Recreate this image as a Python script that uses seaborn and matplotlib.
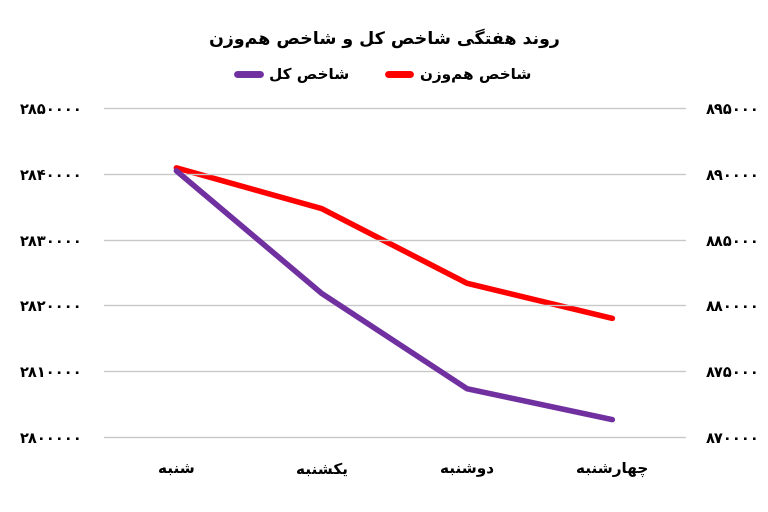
import pandas as pd
import seaborn as sns
import matplotlib.pyplot as plt
from matplotlib.lines import Line2D

days = ["شنبه", "یکشنبه", "دوشنبه", "چهارشنبه"]
total_index = [2840450, 2821800, 2807300, 2802600]
equal_weight = [890450, 887350, 881670, 879000]
left_ticks = [2800000, 2810000, 2820000, 2830000, 2840000, 2850000]
right_ticks = [870000, 875000, 880000, 885000, 890000, 895000]
title = "روند هفتگی شاخص کل و شاخص هم\u200cوزن"
label_total = "شاخص کل"
label_equal = "شاخص هم\u200cوزن"

# matplotlib has no arabic shaping, so pick presentation forms by hand
# (isolated, final, initial, medial); two entries = joins only to the right
FORMS = {
    "ا": (0xFE8D, 0xFE8E), "د": (0xFEA9, 0xFEAA), "ر": (0xFEAD, 0xFEAE),
    "ز": (0xFEAF, 0xFEB0), "و": (0xFEED, 0xFEEE),
    "ب": (0xFE8F, 0xFE90, 0xFE91, 0xFE92), "ت": (0xFE95, 0xFE96, 0xFE97, 0xFE98),
    "خ": (0xFEA5, 0xFEA6, 0xFEA7, 0xFEA8), "ش": (0xFEB5, 0xFEB6, 0xFEB7, 0xFEB8),
    "ص": (0xFEB9, 0xFEBA, 0xFEBB, 0xFEBC), "ف": (0xFED1, 0xFED2, 0xFED3, 0xFED4),
    "ل": (0xFEDD, 0xFEDE, 0xFEDF, 0xFEE0), "م": (0xFEE1, 0xFEE2, 0xFEE3, 0xFEE4),
    "ن": (0xFEE5, 0xFEE6, 0xFEE7, 0xFEE8), "ه": (0xFEE9, 0xFEEA, 0xFEEB, 0xFEEC),
    "ی": (0xFBFC, 0xFBFD, 0xFBFE, 0xFBFF), "ک": (0xFB8E, 0xFB8F, 0xFB90, 0xFB91),
    "گ": (0xFB92, 0xFB93, 0xFB94, 0xFB95), "چ": (0xFB7A, 0xFB7B, 0xFB7C, 0xFB7D),
}


def fa(text):
    out = []
    for i, ch in enumerate(text):
        if ch not in FORMS:
            out.append(ch)
            continue
        prev = text[i - 1] if i > 0 else ""
        nxt = text[i + 1] if i + 1 < len(text) else ""
        join_prev = prev in FORMS and len(FORMS[prev]) == 4
        join_next = len(FORMS[ch]) == 4 and nxt in FORMS
        f = FORMS[ch]
        if join_prev and join_next:
            code = f[3]
        elif join_prev:
            code = f[1]
        elif join_next:
            code = f[2]
        else:
            code = f[0]
        out.append(chr(code))
    return "".join(out).replace("\u200c", "")[::-1]


def fa_num(n):
    return str(n).translate(str.maketrans("0123456789", "۰۱۲۳۴۵۶۷۸۹"))


sns.set_style("white")
plt.rcParams["font.family"] = ["DejaVu Sans"]
plt.rcParams["text.color"] = "black"
plt.rcParams["xtick.color"] = "black"
plt.rcParams["ytick.color"] = "black"

df = pd.DataFrame({"day": [fa(d) for d in days], "total": total_index, "equal": equal_weight})

fig = plt.figure(figsize=(7.68, 5.12), dpi=100)
ax = fig.add_axes([0.135, 0.147, 0.757, 0.642])
ax2 = ax.twinx()

sns.lineplot(data=df, x="day", y="total", ax=ax, color="#7030A0", linewidth=4, sort=False)
sns.lineplot(data=df, x="day", y="equal", ax=ax2, color="#FF0000", linewidth=4, sort=False)

ax.set_xlim(-0.5, 3.5)
ax.set_ylim(2800000, 2850000)
ax2.set_ylim(870000, 895000)
ax.set_yticks(left_ticks)
ax.set_yticklabels([fa_num(v) for v in left_ticks], fontsize=10.5, fontweight="bold")
ax2.set_yticks(right_ticks)
ax2.set_yticklabels([fa_num(v) for v in right_ticks], fontsize=10.5, fontweight="bold")
ax.tick_params(axis="x", labelsize=11, pad=18, length=0)
for lbl in ax.get_xticklabels():
    lbl.set_fontweight("bold")
ax.tick_params(axis="y", length=0, pad=15)
ax2.tick_params(axis="y", length=0, pad=15)
ax.set_xlabel("")
ax.set_ylabel("")
ax2.set_ylabel("")
ax.grid(axis="y", color="#c8c8c8", linewidth=1)
for g in ax.yaxis.get_gridlines():
    g.set_clip_on(False)
ax.set_zorder(ax2.get_zorder() + 1)
ax.patch.set_visible(False)
for a in (ax, ax2):
    for s in a.spines.values():
        s.set_visible(False)

fig.text(0.5, 0.925, fa(title), ha="center", va="center", fontsize=12.5, fontweight="bold")
handles = [Line2D([], [], color="#7030A0", linewidth=5),
           Line2D([], [], color="#FF0000", linewidth=5)]
fig.legend(handles, [fa(label_total), fa(label_equal)], loc="center",
           bbox_to_anchor=(0.5, 0.853), ncol=2, frameon=False,
           prop={"size": 11, "weight": "bold"},
           handlelength=1.5, handletextpad=0.6, columnspacing=2.5)

fig.savefig("out.png", dpi=100)
